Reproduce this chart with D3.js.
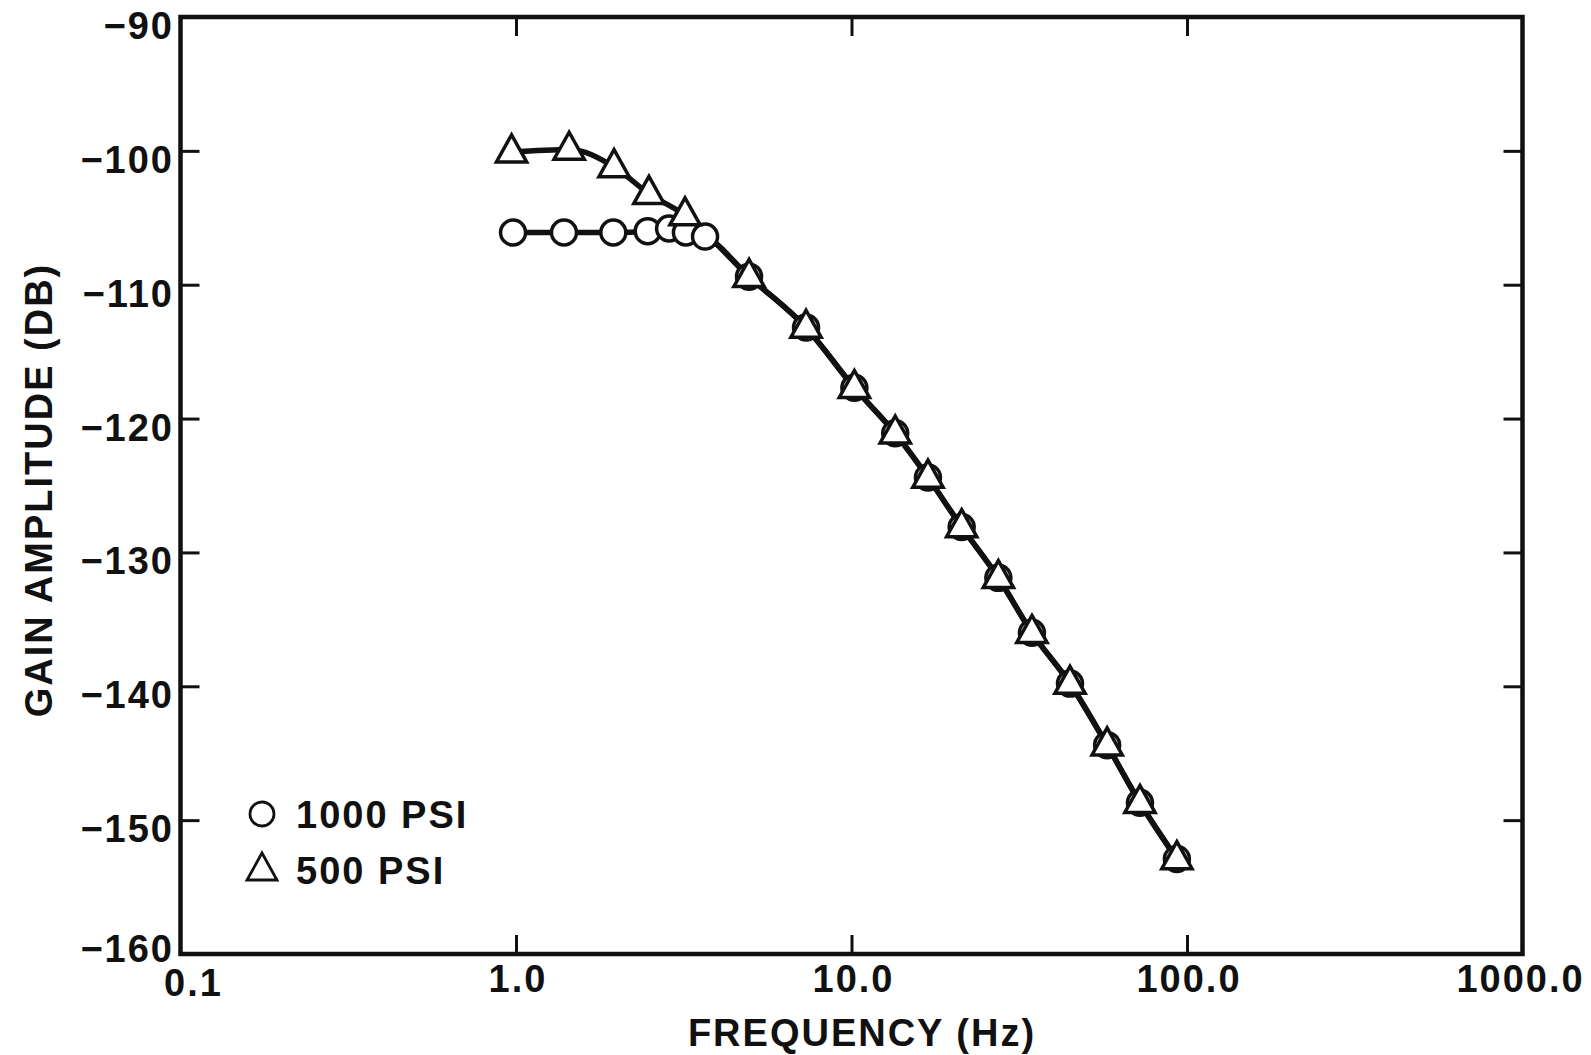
<!DOCTYPE html>
<html>
<head>
<meta charset="utf-8">
<script src="https://cdn.jsdelivr.net/npm/d3@7"></script>
<style>
  html, body { margin: 0; padding: 0; background: #ffffff; }
  svg { display: block; }
  text { font-family: "Liberation Sans", Arial, Helvetica, sans-serif; font-weight: bold; fill: #111; }
</style>
</head>
<body>
<svg id="chart" width="1591" height="1055"></svg>
<script>
// ---- data ----
const freq1000 = [0.98, 1.39, 1.95, 2.47, 2.86, 3.21, 3.66, 4.95, 7.32, 10.2, 13.5, 16.9, 21.3, 27.4, 34.5, 44.8, 57.8, 72.4, 93.3];
const gain1000 = [-106.1, -106.1, -106.1, -106.0, -105.8, -106.1, -106.4, -109.4, -113.2, -117.7, -121.1, -124.4, -128.1, -131.9, -136.0, -139.8, -144.4, -148.7, -152.9];
const freq500  = [0.97, 1.44, 1.96, 2.49, 3.19, 4.95, 7.32, 10.2, 13.5, 16.9, 21.3, 27.4, 34.5, 44.8, 57.8, 72.4, 93.3];
const gain500  = [-100.1, -99.9, -101.2, -103.2, -104.8, -109.4, -113.2, -117.7, -121.1, -124.4, -128.1, -131.9, -136.0, -139.8, -144.4, -148.7, -152.9];
const xTicks = [0.1, 1, 10, 100, 1000];
const xTickLabels = ["0.1", "1.0", "10.0", "100.0", "1000.0"];
const yTicks = [-90, -100, -110, -120, -130, -140, -150, -160];
const yTickLabels = ["\u221290", "\u2212100", "\u2212110", "\u2212120", "\u2212130", "\u2212140", "\u2212150", "\u2212160"];
const legendLabels = ["1000 PSI", "500 PSI"];
const xTitle = "FREQUENCY (Hz)";
const yTitle = "GAIN AMPLITUDE (DB)";

// ---- layout ----
const pLeft = 180.5, pRight = 1522.5, pTop = 17, pBottom = 954;
const x = d3.scaleLog().domain([0.1, 1000]).range([pLeft, pRight]);
const y = d3.scaleLinear().domain([-90, -160]).range([pTop, pBottom]);

const svg = d3.select("#chart");
const FS = 38, LS = "2px";

// frame
svg.append("rect")
  .attr("x", pLeft).attr("y", pTop)
  .attr("width", pRight - pLeft).attr("height", pBottom - pTop)
  .attr("fill", "none").attr("stroke", "#111").attr("stroke-width", 4.5);

// axes via d3 (inward ticks)
const tickLen = 19;
const axB = d3.axisBottom(x).tickValues(xTicks.slice(1, -1)).tickSize(-tickLen).tickFormat("");
const axT = d3.axisTop(x).tickValues(xTicks.slice(1, -1)).tickSize(-tickLen).tickFormat("");
const axL = d3.axisLeft(y).tickValues(yTicks.slice(1, -1)).tickSize(-tickLen).tickFormat("");
const axR = d3.axisRight(y).tickValues(yTicks.slice(1, -1)).tickSize(-tickLen).tickFormat("");
function styleAxis(g) {
  g.select(".domain").remove();
  g.selectAll(".tick line").attr("stroke", "#111").attr("stroke-width", 3);
}
svg.append("g").attr("transform", `translate(0,${pBottom})`).call(axB).call(styleAxis);
svg.append("g").attr("transform", `translate(0,${pTop})`).call(axT).call(styleAxis);
svg.append("g").attr("transform", `translate(${pLeft},0)`).call(axL).call(styleAxis);
svg.append("g").attr("transform", `translate(${pRight},0)`).call(axR).call(styleAxis);

// x tick labels
svg.selectAll(".xlab").data(xTicks).enter().append("text")
  .attr("class", "xlab")
  .attr("x", (d, i) => x(d) + (i === 0 ? 13 : (i === xTicks.length - 1 ? -2 : 2)))
  .attr("y", (d, i) => i === 0 ? 996 : 992)
  .attr("text-anchor", "middle")
  .style("font-size", FS + "px").style("letter-spacing", LS)
  .text((d, i) => xTickLabels[i]);

// y tick labels
svg.selectAll(".ylab").data(yTicks).enter().append("text")
  .attr("class", "ylab")
  .attr("x", 174)
  .attr("y", (d, i) => y(d) + (i === yTicks.length - 1 ? 8 : 22))
  .attr("text-anchor", "end")
  .style("font-size", FS + "px").style("letter-spacing", LS)
  .text((d, i) => yTickLabels[i]);

// axis titles
svg.append("text")
  .attr("x", 862).attr("y", 1046)
  .attr("text-anchor", "middle")
  .style("font-size", FS + "px").style("letter-spacing", LS)
  .text(xTitle);
svg.append("text")
  .attr("transform", "translate(52,490) rotate(-90)")
  .attr("text-anchor", "middle")
  .style("font-size", FS + "px").style("letter-spacing", LS)
  .text(yTitle);

// lines
const d1000 = freq1000.map((f, i) => [f, gain1000[i]]);
const d500 = freq500.map((f, i) => [f, gain500[i]]);
const line = d3.line().x(d => x(d[0])).y(d => y(d[1])).curve(d3.curveMonotoneX);
[d1000, d500].forEach(d => {
  svg.append("path").attr("d", line(d))
    .attr("fill", "none").attr("stroke", "#111").attr("stroke-width", 5.5)
    .attr("stroke-linejoin", "round");
});

// markers
const triPath = (s) => `M0,${-16 * s}L${14 * s},${9 * s}L${-14 * s},${9 * s}Z`;
svg.selectAll(".c1000").data(d1000).enter().append("circle")
  .attr("cx", d => x(d[0])).attr("cy", d => y(d[1])).attr("r", 12.5)
  .attr("fill", "#fff").attr("stroke", "#111").attr("stroke-width", 3.5);
svg.selectAll(".t500").data(d500).enter().append("path")
  .attr("transform", d => `translate(${x(d[0])},${y(d[1])})`)
  .attr("d", triPath(1.08))
  .attr("fill", "#fff").attr("stroke", "#111").attr("stroke-width", 3.5)
  .attr("stroke-linejoin", "miter");

// legend
const lg = svg.append("g");
lg.append("circle").attr("cx", 262).attr("cy", 814).attr("r", 12)
  .attr("fill", "#fff").attr("stroke", "#111").attr("stroke-width", 2.8);
lg.append("path").attr("transform", "translate(262,870)")
  .attr("d", "M0,-17L15,10L-15,10Z")
  .attr("fill", "#fff").attr("stroke", "#111").attr("stroke-width", 2.8);
lg.selectAll(".lt").data(legendLabels).enter().append("text")
  .attr("x", 296).attr("y", (d, i) => 828 + i * 56)
  .style("font-size", FS + "px").style("letter-spacing", LS)
  .text(d => d);
</script>
</body>
</html>
